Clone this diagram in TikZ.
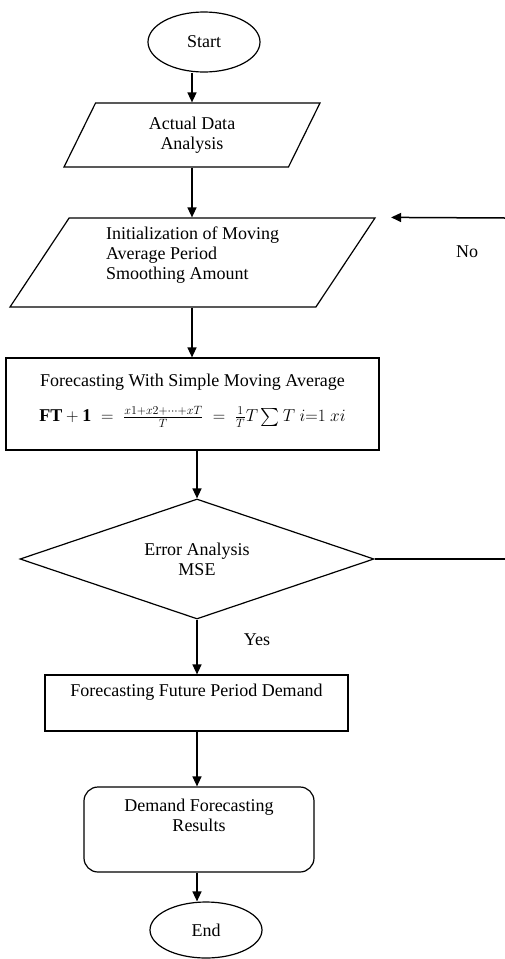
\documentclass[tikz,border=0pt]{standalone}
\usepackage{fontspec}
\setmainfont{Liberation Serif}
\usepackage{amsmath,amssymb}
\usepackage{tikz}
\usetikzlibrary{shapes,arrows,positioning,calc,arrows.meta}

\tikzset{
    flow/.style={draw, line width=1.2pt, font=\fontsize{18}{20}\selectfont, align=center, inner sep=2pt},
    terminal/.style={flow, ellipse},
    inout/.style={flow, trapezium, trapezium left angle=52, trapezium right angle=128, trapezium stretches body},
    process/.style={flow, rectangle},
    decision/.style={flow, diamond, inner sep=0pt},
    answer/.style={font=\fontsize{18}{20}\selectfont},
    arrow/.style={line width=1.5pt, -{Triangle[length=10pt,width=9pt]}},
    link/.style={line width=1.2pt}
}

\begin{document}
\begin{tikzpicture}[x=1pt, y=-1pt]
    \useasboundingbox (0,0) rectangle (505,959);

    \node[terminal, minimum width=112pt, minimum height=60pt] (start) at (204,42) {Start};
    \node[inout, minimum width=256pt, minimum height=64pt] (actual) at (192,135) {Actual Data\\Analysis};
    \node[inout, minimum width=365pt, minimum height=89pt, align=left, text depth=19pt] (init) at (192.5,262.5) {
        Initialization of Moving\\
        Average Period\\
        Smoothing Amount
    };
    \node[process, minimum width=373pt, minimum height=92pt, text depth=12pt] (sma) at (192.5,404) {
        Forecasting With Simple Moving Average\\[15pt]
        $\mathbf{FT+1} \;=\; \frac{x1+x2+\cdots+xT}{T} \;=\; \frac{1}{T}T\sum T\ i{=}1\ xi$
    };
    \node[decision, minimum width=354pt, minimum height=120pt, aspect=2.95] (mse) at (197,559) {Error Analysis\\MSE};
    \node[process, minimum width=303pt, minimum height=56pt, text depth=26pt] (future) at (196.5,703) {Forecasting Future Period Demand};
    \node[process, rounded corners=14pt, minimum width=230pt, minimum height=85pt, text depth=29pt] (results) at (199,829.5) {Demand Forecasting\\Results};
    \node[terminal, minimum width=112pt, minimum height=56pt] (finish) at (206,930) {End};

    \node[answer] (yes) at (257,640) {Yes};
    \node[answer] (no) at (467,252) {No};

    % main flow
    \coordinate (axis) at (192,0);
    \draw[arrow] (start.south -| axis) -- (actual.north -| axis);
    \draw[arrow] (actual.south -| axis) -- (init.north -| axis);
    \draw[arrow] (init.south -| axis) -- (sma.north -| axis);
    \draw[arrow] (sma.south -| mse.north) -- (mse.north);
    \draw[arrow] (mse.south) -- (mse.south |- future.north);
    \draw[arrow] (future.south -| mse.south) -- (results.north -| mse.south);
    \draw[arrow] (results.south -| mse.south) -- (finish.north -| mse.south);

    % loop back (No)
    \coordinate (rightlow) at (505,559);
    \coordinate (righthigh) at (505,218);
    \draw[link] (mse.east) -- (rightlow);
    \draw[arrow] (righthigh) -- ([xshift=15pt]init.top right corner);
\end{tikzpicture}
\end{document}
